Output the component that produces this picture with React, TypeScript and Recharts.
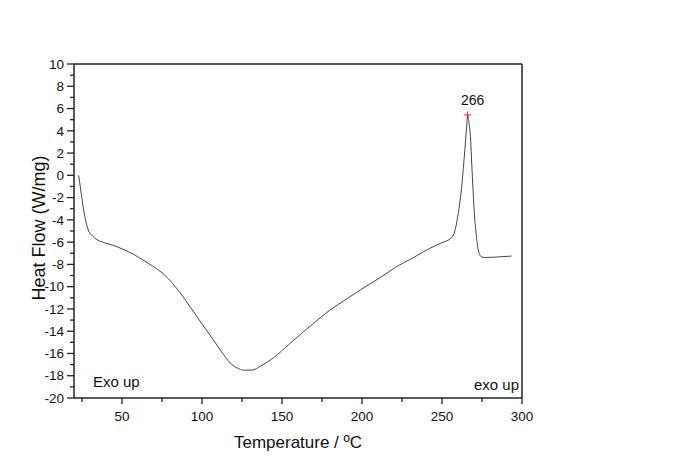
import React from "react";
import { LineChart, Line, XAxis, YAxis, ReferenceLine, ReferenceDot } from "recharts";

const temperature = [
  22.9, 24.5, 26, 27.5, 29.2, 31.5, 34.4, 40, 44.8, 50, 57.3, 63, 69.7, 75, 79.1, 83, 86.4, 93, 100,
  107.2, 112, 117.6, 122, 125.9, 131.1, 137, 144.6, 155, 169.6, 180, 190.4, 200, 211.2, 221.6,
  232, 242.4, 250, 256, 258, 259.5, 261, 262.2, 263.3, 264.3, 265.4, 266, 266.8, 267.9, 268.6,
  269.4, 270.2, 271.1, 272, 273.2, 274.5, 276.7, 283, 293.4,
];
const heatFlow = [
  0.0, -1.6, -3.1, -4.2, -5.0, -5.45, -5.78, -6.1, -6.3, -6.6, -7.1, -7.6, -8.2, -8.75, -9.3,
  -9.95, -10.55, -11.9, -13.35, -14.8, -15.8, -16.85, -17.3, -17.5, -17.5, -17.1, -16.4, -15.1, -13.3,
  -12.1, -11.1, -10.2, -9.2, -8.2, -7.4, -6.55, -6.05, -5.6, -5.0, -4.0, -2.6, -1.2, 0.6, 2.3,
  4.37, 5.42, 4.8, 3.17, 1.0, -1.3, -3.4, -4.9, -6.1, -7.0, -7.3, -7.38, -7.35, -7.25,
];
const xTicks = [25, 50, 75, 100, 125, 150, 175, 200, 225, 250, 275, 300];
const yTicks = [-20, -19, -18, -17, -16, -15, -14, -13, -12, -11, -10, -9, -8, -7, -6, -5, -4, -3, -2, -1, 0, 1, 2, 3, 4, 5, 6, 7, 8, 9, 10];
const peakTemperature = 266;
const peakHeatFlow = 5.42;
const xLabel = "Temperature / ºC";
const yLabel = "Heat Flow (W/mg)";
const noteLeft = "Exo up";
const noteRight = "exo up";

const data = temperature.map((t, i) => ({ t, hf: heatFlow[i] }));

const FONT = "'Liberation Sans', Arial, sans-serif";
const AX = "#222";

const YTick = (props: any) => {
  const { x, y, payload } = props;
  const major = payload.value % 2 === 0;
  return (
    <g>
      <line x1={x - (major ? 7 : 4)} x2={x} y1={y} y2={y} stroke={AX} strokeWidth={1.3} />
      {major && (
        <text x={x - 10} y={y} dy="0.35em" textAnchor="end" fontSize={13.5} fontFamily={FONT} fill="#111">
          {payload.value}
        </text>
      )}
    </g>
  );
};

const XTick = (props: any) => {
  const { x, y, payload } = props;
  const major = payload.value % 50 === 0;
  return (
    <g>
      <line x1={x} x2={x} y1={y} y2={y + (major ? 6 : 4)} stroke={AX} strokeWidth={1.3} />
      {major && (
        <text x={x} y={y + 23} textAnchor="middle" fontSize={13.5} fontFamily={FONT} fill="#111">
          {payload.value}
        </text>
      )}
    </g>
  );
};

const PeakMark = (props: any) => {
  const { cx, cy } = props;
  return (
    <g>
      <line x1={cx - 3.5} x2={cx + 3.5} y1={cy} y2={cy} stroke="#e02020" strokeWidth={1} />
      <line x1={cx} x2={cx} y1={cy - 3.5} y2={cy + 3.5} stroke="#e02020" strokeWidth={1} />
      <text x={cx + 5} y={cy - 10} textAnchor="middle" fontSize={14} fontFamily={FONT} fill="#111">
        {String(peakTemperature)}
      </text>
    </g>
  );
};

export default function App() {
  return (
    <div style={{ position: "absolute", left: 0, top: 0, width: 673, height: 472, background: "#fff" }}>
      <LineChart
        width={673}
        height={472}
        data={data}
        margin={{ top: 64, right: 151, bottom: 44, left: 0 }}
      >
        <XAxis
          dataKey="t"
          type="number"
          domain={[20, 300]}
          ticks={xTicks}
          tick={<XTick />}
          tickLine={false}
          tickSize={0}
          tickMargin={0}
          height={30}
          axisLine={{ stroke: AX, strokeWidth: 1.5 }}
          allowDataOverflow
        />
        <YAxis
          type="number"
          domain={[-20, 10]}
          ticks={yTicks}
          tick={<YTick />}
          tickLine={false}
          tickSize={0}
          tickMargin={0}
          width={74}
          interval={0}
          axisLine={{ stroke: AX, strokeWidth: 1.5 }}
          allowDataOverflow
        />
        <ReferenceLine y={10} stroke={AX} strokeWidth={1.5} />
        <ReferenceLine x={300} stroke={AX} strokeWidth={1.5} />
        <Line
          dataKey="hf"
          type="monotone"
          stroke="#444"
          strokeWidth={1}
          dot={false}
          isAnimationActive={false}
        />
        <ReferenceDot x={peakTemperature} y={peakHeatFlow} shape={<PeakMark />} />
      </LineChart>
      <svg
        width={673}
        height={472}
        style={{ position: "absolute", left: 0, top: 0, pointerEvents: "none" }}
      >
        <text x={298} y={448} textAnchor="middle" fontSize={17} fontFamily={FONT} fill="#111">
          {xLabel}
        </text>
        <text
          x={45}
          y={228}
          textAnchor="middle"
          fontSize={18}
          fontFamily={FONT}
          fill="#111"
          transform="rotate(-90 45 228)"
        >
          {yLabel}
        </text>
        <text x={93} y={387} fontSize={15} fontFamily={FONT} fill="#111">
          {noteLeft}
        </text>
        <text x={519} y={390} textAnchor="end" fontSize={15} fontFamily={FONT} fill="#111">
          {noteRight}
        </text>
      </svg>
    </div>
  );
}
